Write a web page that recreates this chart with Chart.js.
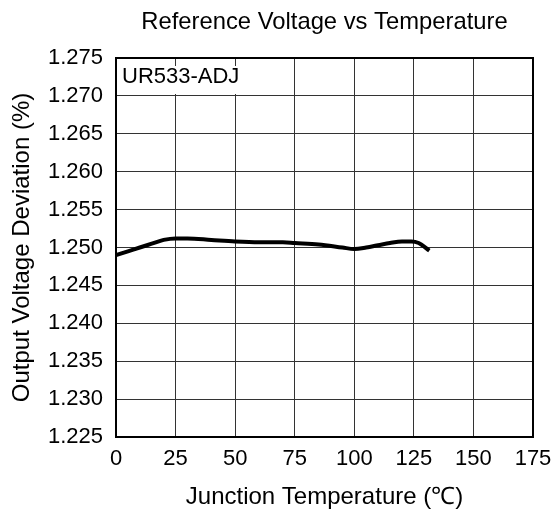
<!DOCTYPE html>
<html>
<head>
<meta charset="utf-8">
<script src="https://cdn.jsdelivr.net/npm/chart.js@4/dist/chart.umd.min.js"></script>
<style>
  html, body { margin: 0; padding: 0; background: #fff; }
  #wrap { width: 556px; height: 513px; }
</style>
</head>
<body>
<div id="wrap"><canvas id="c" width="556" height="513"></canvas></div>
<script>
const chartTitle = 'Reference Voltage vs Temperature';
const deviceLabel = 'UR533-ADJ';
const xAxisTitle = 'Junction Temperature (\u2103)';
const yAxisTitle = 'Output Voltage Deviation (%)';

const temperatures = [0, 5, 10, 15, 20, 25, 30, 40, 50, 60, 70, 75, 85, 95, 100, 105, 110, 115, 120, 124, 127, 131.5];
const voltages = [1.2490, 1.2495, 1.2500, 1.2505, 1.2510, 1.2512, 1.2512, 1.2510, 1.2508, 1.2507, 1.2507, 1.2506, 1.2504, 1.2500, 1.2498, 1.2500, 1.2503, 1.2506, 1.2508, 1.2508, 1.2506, 1.2496];

const xTicks = [0, 25, 50, 75, 100, 125, 150, 175];
const yTicks = [1.225, 1.230, 1.235, 1.240, 1.245, 1.250, 1.255, 1.260, 1.265, 1.270, 1.275];

const FONT = "'Liberation Sans', Arial, sans-serif";
const points = temperatures.map((t, i) => ({ x: t, y: voltages[i] }));

const decor = {
  id: 'decor',
  beforeDatasetsDraw(chart) {
    const { ctx, chartArea: a } = chart;
    ctx.save();
    ctx.fillStyle = '#fff';
    ctx.fillRect(a.left + 1, 66, 139, 28);
    ctx.fillStyle = '#000';
    ctx.font = '22px ' + FONT;
    ctx.textBaseline = 'middle';
    ctx.textAlign = 'left';
    ctx.fillText(deviceLabel, a.left + 6, 77);
    ctx.restore();
  },
  afterDraw(chart) {
    const { ctx, chartArea: a } = chart;
    ctx.save();
    ctx.strokeStyle = '#000';
    ctx.lineWidth = 2;
    ctx.strokeRect(a.left, a.top, a.right - a.left, a.bottom - a.top);
    ctx.fillStyle = '#000';
    ctx.font = '23.8px ' + FONT;
    ctx.textAlign = 'center';
    ctx.textBaseline = 'middle';
    ctx.fillText(chartTitle, (a.left + a.right) / 2, 22);
    ctx.restore();
  }
};

new Chart(document.getElementById('c'), {
  type: 'line',
  data: {
    datasets: [{
      data: points,
      borderColor: '#000',
      borderWidth: 4,
      pointRadius: 0,
      fill: false,
      tension: 0.4,
      cubicInterpolationMode: 'monotone'
    }]
  },
  options: {
    responsive: false,
    animation: false,
    devicePixelRatio: 1,
    layout: { padding: { top: 58, right: 23, left: 0, bottom: 0 } },
    plugins: { legend: { display: false }, title: { display: false }, tooltip: { enabled: false } },
    scales: {
      x: {
        type: 'linear',
        min: 0, max: 175,
        afterFit(s) { s.height = 76; s.paddingRight = 0; s.paddingLeft = 0; },
        afterBuildTicks(s) { s.ticks = xTicks.map(v => ({ value: v })); },
        grid: { color: '#333', lineWidth: 1, drawTicks: false },
        border: { display: false },
        ticks: {
          color: '#000', padding: 11, maxRotation: 0,
          font: { family: FONT, size: 22, lineHeight: 1 },
          callback: v => String(v)
        },
        title: {
          display: true, text: xAxisTitle, color: '#000',
          font: { family: FONT, size: 24, lineHeight: 1 },
          padding: { top: 0, bottom: 4 }
        }
      },
      y: {
        type: 'linear',
        min: 1.225, max: 1.275,
        afterFit(s) { s.width = 116; s.paddingTop = 0; s.paddingBottom = 0; },
        afterBuildTicks(s) { s.ticks = yTicks.map(v => ({ value: v })); },
        grid: { color: '#333', lineWidth: 1, drawTicks: false },
        border: { display: false },
        ticks: {
          color: '#000', padding: 13,
          font: { family: FONT, size: 22, lineHeight: 1 },
          callback: v => Number(v).toFixed(3)
        },
        title: {
          display: true, text: yAxisTitle, color: '#000',
          font: { family: FONT, size: 24, lineHeight: 1 },
          padding: { top: 10, bottom: 0 }
        }
      }
    }
  },
  plugins: [decor]
});
</script>
</body>
</html>
